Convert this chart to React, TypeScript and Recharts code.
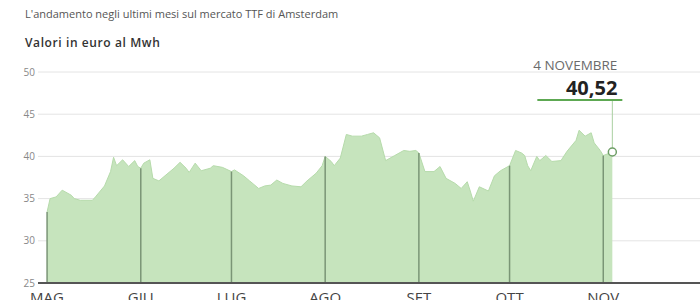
import React from "react";
import {
  ComposedChart,
  Area,
  XAxis,
  YAxis,
  CartesianGrid,
  ReferenceLine,
  ReferenceDot,
} from "recharts";

// giorni dal 1 maggio (0) al 4 novembre (187)
const days = [
  0, 1, 3, 5, 8, 9, 11, 15, 16, 19, 21, 22, 23, 25, 27, 29, 30, 31,
  32, 34, 35, 37, 39, 42, 44, 46, 47, 49, 51, 54, 55, 58, 61,
  62, 65, 67, 70, 72, 74, 76, 78, 81, 84, 86, 89, 91, 92,
  94, 95, 97, 99, 101, 104, 106, 108, 110, 112, 115, 118, 120, 122, 123,
  125, 128, 130, 132, 135, 137, 139, 140, 141, 143, 146, 148, 150, 153,
  155, 157, 158, 159, 160, 162, 163, 165, 167, 170, 172, 175, 176, 178, 180, 181, 183, 184, 187,
];

const prices = [
  33.4, 35.0, 35.2, 36.0, 35.4, 35.0, 34.8, 34.8, 35.2, 36.5, 38.2, 39.9, 38.9, 39.6, 38.8, 39.5, 38.8, 38.6,
  39.2, 39.6, 37.4, 37.1, 37.7, 38.6, 39.3, 38.6, 38.1, 39.2, 38.3, 38.6, 38.9, 38.7, 38.2,
  38.4, 37.7, 37.1, 36.2, 36.5, 36.6, 37.2, 36.8, 36.5, 36.4, 37.1, 38.0, 38.9, 40.0,
  39.4, 38.9, 39.8, 42.6, 42.4, 42.4, 42.6, 42.8, 42.2, 39.5, 40.1, 40.7, 40.6, 40.7, 40.4,
  38.2, 38.2, 38.8, 37.4, 36.8, 36.2, 37.0, 35.9, 34.7, 36.4, 35.9, 37.7, 38.3, 38.9,
  40.7, 40.4, 40.1, 38.9, 38.3, 40.0, 39.5, 40.1, 39.4, 39.5, 40.6, 41.9, 43.1, 42.4, 42.8, 41.6, 40.7, 40.1, 40.52,
];

const monthStarts = [0, 31, 61, 92, 123, 153, 184];
const monthLabels = ["MAG", "GIU", "LUG", "AGO", "SET", "OTT", "NOV"];
const yTicks = [25, 30, 35, 40, 45, 50];

const lastLabel = "4 NOVEMBRE";
const lastValueText = "40,52";

const data = days.map((d, i) => ({ day: d, value: prices[i] }));
const valueAt = (d: number) => data.find((p) => p.day === d)?.value ?? 25;
const last = data[data.length - 1];

const font = "'Open Sans', 'Noto Sans', sans-serif";

const EndMarker = (props: any) => {
  const { cx, cy } = props;
  const topY = 100;
  return (
    <g>
      <line x1={cx} y1={cy - 4} x2={cx} y2={topY} stroke="#a9cfa0" strokeWidth={1} />
      <line x1={cx - 75} y1={topY} x2={cx + 10} y2={topY} stroke="#5da852" strokeWidth={2} />
      <text x={cx + 5} y={70} textAnchor="end" fontSize={13.5} fill="#6b6b6b" fontFamily={font}>
        {lastLabel}
      </text>
      <text x={cx + 5} y={95} textAnchor="end" fontSize={20} fontWeight={700} fill="#222" fontFamily={font}>
        {lastValueText}
      </text>
      <circle cx={cx} cy={cy} r={4} fill="#fff" stroke="#6e9e66" strokeWidth={1.5} />
    </g>
  );
};

export default function App() {
  return (
    <div style={{ position: "absolute", left: 0, top: 0, width: 700, height: 300, background: "#fff", overflow: "hidden" }}>
      <div style={{ position: "absolute", left: 25, top: 6, fontFamily: font, fontSize: 11, color: "#555", whiteSpace: "nowrap" }}>
        L'andamento negli ultimi mesi sul mercato TTF di Amsterdam
      </div>
      <div style={{ position: "absolute", left: 25, top: 34, fontFamily: font, fontSize: 12, fontWeight: 600, letterSpacing: 0.6, color: "#333", whiteSpace: "nowrap" }}>
        Valori in euro al Mwh
      </div>
      <div style={{ position: "absolute", left: 0, top: 0 }}>
        <ComposedChart width={700} height={300} data={data} margin={{ top: 72, right: 0, bottom: 0, left: 0 }}>
          <CartesianGrid horizontal={true} vertical={false} stroke="#e4e4e4" />
          <XAxis
            dataKey="day"
            type="number"
            domain={[-3, 216]}
            ticks={monthStarts}
            tickFormatter={(v: number) => monthLabels[monthStarts.indexOf(v)]}
            tickLine={false}
            tickSize={0}
            tickMargin={9}
            height={17}
            axisLine={{ stroke: "#555", strokeWidth: 2 }}
            tick={{ fontSize: 15, fill: "#444", fontFamily: font }}
            interval={0}
          />
          <YAxis
            domain={[25, 50]}
            ticks={yTicks}
            width={38}
            axisLine={false}
            tickLine={false}
            tickSize={0}
            tickMargin={3}
            tick={{ fontSize: 10, fill: "#888", fontFamily: font }}
          />
          <Area
            dataKey="value"
            type="linear"
            fill="#c6e4bd"
            fillOpacity={1}
            stroke="#b6dbab"
            strokeWidth={1}
            isAnimationActive={false}
          />
          {monthStarts.map((d) => (
            <ReferenceLine
              key={d}
              segment={[
                { x: d, y: 25 },
                { x: d, y: valueAt(d) },
              ]}
              stroke="#7a9576"
              strokeWidth={1.5}
            />
          ))}
          <ReferenceDot x={last.day} y={last.value} r={4} shape={EndMarker} />
        </ComposedChart>
      </div>
    </div>
  );
}
